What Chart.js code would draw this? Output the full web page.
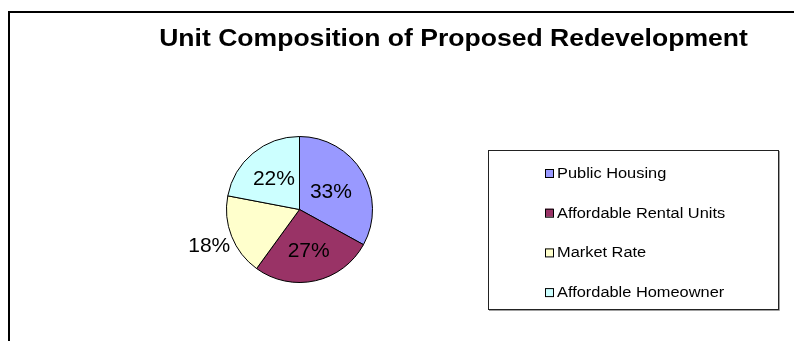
<!DOCTYPE html>
<html><head><meta charset="utf-8">
<script src="https://cdn.jsdelivr.net/npm/chart.js@4"></script>
<style>html,body{margin:0;padding:0;background:#fff}#wrap{width:794px;height:341px;position:relative}</style>
</head><body><div id="wrap"><canvas id="c" width="794" height="341"></canvas></div>
<script>
const chartTitle = 'Unit Composition of Proposed Redevelopment';
const categories = ['Public Housing', 'Affordable Rental Units', 'Market Rate', 'Affordable Homeowner'];
const shares = [33, 27, 18, 22];
const sliceColors = ['#9999FF', '#993366', '#FFFFCC', '#CCFFFF'];

const FONT = '"Liberation Sans", Arial, sans-serif';

function drawStretched(ctx, text, x, y, font, scaleX, align) {
  ctx.save();
  ctx.font = font;
  ctx.textBaseline = 'alphabetic';
  ctx.textAlign = 'left';
  const w = ctx.measureText(text).width * scaleX;
  let left = x;
  if (align === 'center') left = x - w / 2;
  ctx.translate(left, y);
  ctx.scale(scaleX, 1);
  ctx.fillStyle = '#000';
  ctx.fillText(text, 0, 0);
  ctx.restore();
}

const decor = {
  id: 'decor',
  afterDraw(chart) {
    const ctx = chart.ctx;
    // outer frame (left and top edges visible)
    ctx.save();
    ctx.strokeStyle = '#000';
    ctx.lineWidth = 2;
    ctx.beginPath();
    ctx.moveTo(9, 400);
    ctx.lineTo(9, 12);
    ctx.lineTo(800, 12);
    ctx.stroke();
    ctx.restore();

    // title
    drawStretched(ctx, chartTitle, 453.5, 46, 'bold 23.5px ' + FONT, 1.13, 'center');

    // percentage labels
    const meta = chart.getDatasetMeta(0);
    const rf = [0.5, 0.575, 1.33, 0.55];
    ctx.save();
    ctx.font = '21px ' + FONT;
    ctx.fillStyle = '#000';
    ctx.textAlign = 'center';
    ctx.textBaseline = 'middle';
    meta.data.forEach((arc, i) => {
      const mid = (arc.startAngle + arc.endAngle) / 2;
      const r = arc.outerRadius * rf[i];
      ctx.fillText(shares[i] + '%', arc.x + Math.cos(mid) * r, arc.y + Math.sin(mid) * r + 1);
    });
    ctx.restore();

    // legend box
    const L = 488, T = 150, R = 778, B = 309;
    ctx.save();
    ctx.strokeStyle = '#a0a0a0';
    ctx.lineWidth = 1;
    ctx.beginPath();
    ctx.moveTo(L + 1, B + 1.5); ctx.lineTo(R + 1.5, B + 1.5); ctx.lineTo(R + 1.5, T + 1);
    ctx.stroke();
    ctx.strokeStyle = '#222';
    ctx.strokeRect(L + 0.5, T + 0.5, R - L, B - T);
    ctx.restore();

    categories.forEach((name, i) => {
      const base = 178 + i * 39.7;
      ctx.save();
      ctx.fillStyle = sliceColors[i];
      ctx.fillRect(545, base - 9, 8, 8);
      ctx.strokeStyle = '#000';
      ctx.lineWidth = 1;
      ctx.strokeRect(545.5, base - 8.5, 8, 8);
      ctx.restore();
      drawStretched(ctx, name, 557, base, '14px ' + FONT, 1.17, 'left');
    });
  }
};

new Chart(document.getElementById('c'), {
  type: 'pie',
  data: {
    labels: categories,
    datasets: [{
      data: shares,
      backgroundColor: sliceColors,
      borderColor: '#000',
      borderWidth: 1,
      hoverOffset: 0
    }]
  },
  options: {
    responsive: false,
    animation: false,
    layout: { padding: { left: 226, right: 421, top: 136, bottom: 58 } },
    plugins: {
      legend: { display: false },
      tooltip: { enabled: false },
      title: { display: false }
    },
    events: []
  },
  plugins: [decor]
});
</script>
</body></html>
